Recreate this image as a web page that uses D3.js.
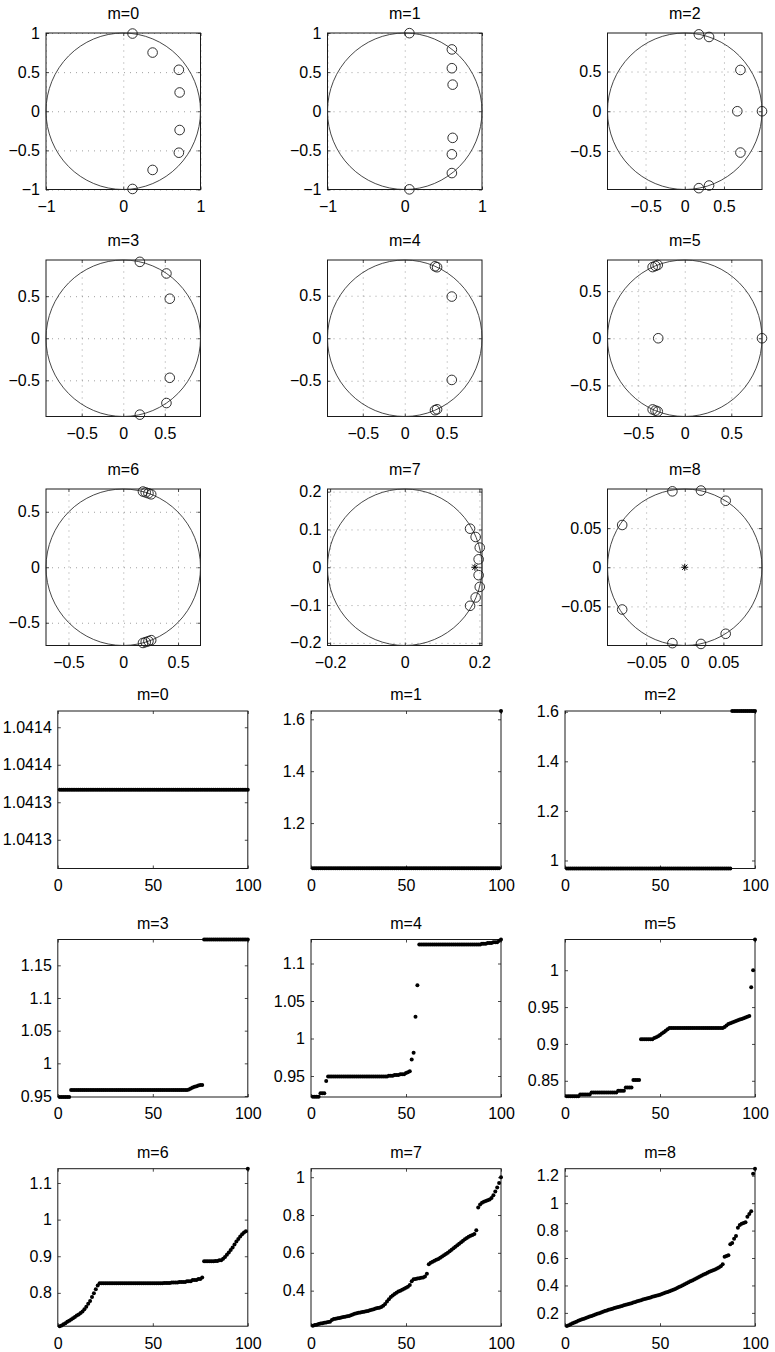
<!DOCTYPE html>
<html><head><meta charset="utf-8">
<script src="https://cdn.jsdelivr.net/npm/d3@7/dist/d3.min.js"></script>
<style>
body{margin:0;background:#fff}
svg{display:block}
text{font-family:"Liberation Sans",Arial,Helvetica,sans-serif;fill:#000}
</style>
</head><body>
<svg id="c" width="775" height="1352"></svg>
<script>
// ---------- pole/zero panels ----------
const zTitles = ["m=0","m=1","m=2","m=3","m=4","m=5","m=6","m=7","m=8"];
const zRadius = [1, 1, 0.985, 0.93, 0.92, 0.83, 0.705, 0.207, 0.1];
const zXTicks = [[-1,0,1],[-1,0,1],[-0.5,0,0.5],[-0.5,0,0.5],[-0.5,0,0.5],[-0.5,0,0.5],[-0.5,0,0.5],[-0.2,0,0.2],[-0.05,0,0.05]];
const zYTicks = [[-1,-0.5,0,0.5,1],[-1,-0.5,0,0.5,1],[-0.5,0,0.5],[-0.5,0,0.5],[-0.5,0,0.5],[-0.5,0,0.5],[-0.5,0,0.5],[-0.2,-0.1,0,0.1,0.2],[-0.05,0,0.05]];
const zZeros = [
 [[0.12,0.993],[0.38,0.75],[0.72,0.53],[0.73,0.24],[0.73,-0.24],[0.72,-0.53],[0.38,-0.75],[0.12,-0.993]],
 [[0.06,0.998],[0.61,0.79],[0.61,0.55],[0.62,0.34],[0.62,-0.34],[0.61,-0.55],[0.61,-0.79],[0.06,-0.998]],
 [[0.18,0.968],[0.31,0.935],[0.71,0.52],[0.67,0],[0.985,0],[0.71,-0.52],[0.31,-0.935],[0.18,-0.968]],
 [[0.2,0.908],[0.52,0.77],[0.56,0.47],[0.56,-0.47],[0.52,-0.77],[0.2,-0.908]],
 [[0.36,0.846],[0.385,0.835],[0.56,0.49],[0.56,-0.49],[0.36,-0.846],[0.385,-0.835]],
 [[-0.345,0.755],[-0.315,0.767],[-0.29,0.777],[-0.285,0],[0.83,0],[-0.345,-0.755],[-0.315,-0.767],[-0.29,-0.777]],
 [[0.18,0.682],[0.205,0.674],[0.23,0.666],[0.255,0.657],[0.18,-0.682],[0.205,-0.674],[0.23,-0.666],[0.255,-0.657]],
 [[0.175,0.102],[0.19,0.08],[0.201,0.052],[0.198,0.021],[0.198,-0.021],[0.201,-0.052],[0.19,-0.08],[0.175,-0.102]],
 [[-0.016,0.097],[0.021,0.098],[0.053,0.085],[-0.081,0.054],[-0.081,-0.054],[-0.016,-0.097],[0.021,-0.098],[0.053,-0.085]]
];
const zStars = [null,null,null,null,null,null,null,[0.188,0],[0,0]];

// ---------- sorted-value panels ----------
const sTitles = ["m=0","m=1","m=2","m=3","m=4","m=5","m=6","m=7","m=8"];
const sXTicks = [0,50,100];
const sYDomains = [[1.041282,1.041408],[1.025,1.632],[0.9676,1.603],[0.9485,1.1895],[0.922,1.132],[0.828,1.0417],[0.709,1.139],[0.212,1.045],[0.103,1.251]];
const sYTicks = [[1.041305,1.041335,1.041365,1.041395],[1.2,1.4,1.6],[1,1.2,1.4,1.6],[0.95,1,1.05,1.1,1.15],[0.95,1,1.05,1.1],[0.85,0.9,0.95,1],[0.8,0.9,1,1.1],[0.4,0.6,0.8,1],[0.2,0.4,0.6,0.8,1,1.2]];
const sYTickLabels = [["1.0413","1.0413","1.0414","1.0414"],["1.2","1.4","1.6"],["1","1.2","1.4","1.6"],["0.95","1","1.05","1.1","1.15"],["0.95","1","1.05","1.1"],["0.85","0.9","0.95","1"],["0.8","0.9","1","1.1"],["0.4","0.6","0.8","1"],["0.2","0.4","0.6","0.8","1","1.2"]];
// values, in sorted order; [value, count] = a plateau of identical dots
const sSeries = [
 [[1.041345,100]],
 [[1.0255,99],1.632],
 [[0.9676,87],[1.603,13]],
 [[0.9485,6],[0.9591,62],0.960,0.9615,0.963,0.964,0.965,0.966,0.967,0.967,[1.1895,24]],
 [[0.9225,4],[0.927,3],0.9435,[0.9495,32],[0.9505,3],[0.9515,3],[0.9525,3],0.954,0.955,0.9565,0.972,0.981,1.029,1.071,[1.1255,33],[1.1265,3],[1.1275,3],[1.1285,3],1.1305,1.132],
 [[0.829,7],[0.8315,6],[0.834,14],[0.8365,4],[0.841,4],[0.851,4],[0.9065,7],0.908,0.909,0.9105,0.912,0.914,0.916,0.918,0.92,[0.9215,29],0.923,0.925,0.927,0.928,0.929,0.93,0.931,0.932,0.933,0.934,0.935,0.936,0.937,0.938,0.977,1.0,1.0417],
 [0.709,0.711,0.714,0.717,0.721,0.724,0.727,0.731,0.734,0.738,0.741,0.745,0.749,0.755,0.762,0.77,0.778,0.789,0.799,0.81,0.82,[0.826,34],[0.827,4],[0.828,4],[0.83,4],[0.832,3],[0.835,3],[0.838,2],0.842,[0.886,6],[0.887,2],[0.889,2],0.893,0.898,0.904,0.91,0.917,0.924,0.932,0.94,0.947,0.954,0.96,0.965,0.968,1.139],
 [0.215,0.218,0.22,0.223,0.226,0.228,0.23,0.232,0.234,0.236,
  0.245,0.25,0.252,0.254,0.256,0.258,0.26,0.262,0.264,0.266,
  0.27,0.274,0.278,0.281,0.283,0.285,0.287,0.289,0.291,0.293,
  0.296,0.299,0.302,0.305,0.308,0.31,0.313,0.32,0.33,0.342,
  0.355,0.366,0.375,0.382,0.389,0.395,0.4,0.405,0.41,0.415,
  0.42,0.43,0.45,0.46,0.462,0.464,0.466,0.468,0.47,0.475,
  0.49,0.54,0.548,0.553,0.558,0.563,0.568,0.574,0.58,0.587,
  0.594,0.601,0.608,0.616,0.624,0.632,0.64,0.648,0.656,0.664,
  0.672,0.679,0.685,0.69,0.695,0.7,0.72,0.84,0.855,0.865,
  0.87,0.874,0.878,0.882,0.89,0.905,0.925,0.945,0.97,1.0],
 [0.105,0.11,0.118,0.124,0.13,0.136,0.142,0.148,0.153,0.158,
  0.163,0.168,0.173,0.178,0.183,0.188,0.193,0.198,0.203,0.208,
  0.213,0.218,0.222,0.227,0.231,0.235,0.239,0.243,0.247,0.251,
  0.255,0.259,0.263,0.267,0.271,0.275,0.28,0.285,0.289,0.293,
  0.297,0.301,0.305,0.309,0.313,0.317,0.321,0.325,0.329,0.333,
  0.338,0.343,0.348,0.353,0.358,0.363,0.369,0.375,0.381,0.388,
  0.395,0.402,0.409,0.416,0.423,0.43,0.437,0.444,0.451,0.458,
  0.465,0.472,0.479,0.486,0.493,0.499,0.505,0.511,0.517,0.523,
  0.53,0.54,0.555,0.61,0.615,0.62,0.7,0.71,0.74,0.76,
  0.82,0.84,0.85,0.855,0.86,0.9,0.92,0.94,1.215,1.251]
];

// ---------- drawing ----------
const svg = d3.select("#c");
const fmt = v => (v < 0 ? "\u2212" : "") + String(Math.abs(v));
const INK = "#1a1a1a";

function styleAxis(g, fs) {
  g.select(".domain").remove();
  g.selectAll(".tick line").attr("stroke", INK).attr("stroke-width", 0.8);
  g.selectAll(".tick text").attr("font-size", fs).attr("font-family", '"Liberation Sans",Arial,sans-serif').attr("fill", "#000");
  g.attr("font-size", null).attr("font-family", null);
}

function frame(g, x, y, xt, yt, L, T, W, H, fs, xLabels, yLabels, grid) {
  if (grid) {
    const gs = a => { a.select(".domain").remove(); a.selectAll("line").attr("stroke", "#888").attr("stroke-width", 0.8).attr("stroke-dasharray", "1,5"); };
    g.append("g").attr("transform", `translate(0,${T+H})`)
      .call(d3.axisBottom(x).tickValues(xt).tickSizeInner(-H).tickSizeOuter(0).tickFormat("")).call(gs);
    g.append("g").attr("transform", `translate(${L},0)`)
      .call(d3.axisLeft(y).tickValues(yt).tickSizeInner(-W).tickSizeOuter(0).tickFormat("")).call(gs);
  }
  const tk = 3;
  g.append("g").attr("transform", `translate(0,${T+H})`)
    .call(d3.axisBottom(x).tickValues(xt).tickSizeInner(-tk).tickSizeOuter(0).tickPadding(11).tickFormat((d,i)=>xLabels[i]))
    .call(a => styleAxis(a, fs));
  g.append("g").attr("transform", `translate(${L},0)`)
    .call(d3.axisLeft(y).tickValues(yt).tickSizeInner(-tk).tickSizeOuter(0).tickPadding(6).tickFormat((d,i)=>yLabels[i]))
    .call(a => styleAxis(a, fs));
  g.append("g").attr("transform", `translate(0,${T})`)
    .call(d3.axisTop(x).tickValues(xt).tickSizeInner(-tk).tickSizeOuter(0).tickFormat(""))
    .call(a => styleAxis(a, fs));
  g.append("g").attr("transform", `translate(${L+W},0)`)
    .call(d3.axisRight(y).tickValues(yt).tickSizeInner(-tk).tickSizeOuter(0).tickFormat(""))
    .call(a => styleAxis(a, fs));
  g.append("rect").attr("x", L).attr("y", T).attr("width", W).attr("height", H)
    .attr("fill", "none").attr("stroke", INK).attr("stroke-width", 1);
}

// top 3x3
const zCols = [46, 327.5, 607.5], zRows = [33, 260, 489], zW = 154.5, zH = 156.5;
zTitles.forEach((title, i) => {
  const L = zCols[i % 3], T = zRows[Math.floor(i / 3)];
  const r = zRadius[i];
  const x = d3.scaleLinear().domain([-r, r]).range([L, L + zW]);
  const y = d3.scaleLinear().domain([-r, r]).range([T + zH, T]);
  const g = svg.append("g");
  frame(g, x, y, zXTicks[i], zYTicks[i], L, T, zW, zH, 16, zXTicks[i].map(fmt), zYTicks[i].map(fmt), true);
  g.append("ellipse").attr("cx", x(0)).attr("cy", y(0)).attr("rx", x(r) - x(0)).attr("ry", y(0) - y(r))
    .attr("fill", "none").attr("stroke", "#333").attr("stroke-width", 0.9);
  g.selectAll("circle.z").data(zZeros[i]).join("circle").attr("class", "z")
    .attr("cx", d => x(d[0])).attr("cy", d => y(d[1])).attr("r", 4.8)
    .attr("fill", "none").attr("stroke", INK).attr("stroke-width", 0.9);
  if (zStars[i]) {
    const s = zStars[i];
    g.append("path").attr("transform", `translate(${x(s[0])},${y(s[1])})`)
      .attr("d", "M-3.5,0H3.5M0,-3.5V3.5M-2.6,-2.6L2.6,2.6M-2.6,2.6L2.6,-2.6")
      .attr("stroke", "#000").attr("stroke-width", 1).attr("fill", "none");
  }
  g.append("text").attr("x", L + zW / 2).attr("y", T - 14).attr("text-anchor", "middle")
    .attr("font-size", 16).text(title);
});

// bottom 3x3
const sCols = [57.8, 311, 565], sRows = [711, 939.5, 1168.7], sW = 190, sH = 157.5;
sTitles.forEach((title, i) => {
  const L = sCols[i % 3], T = sRows[Math.floor(i / 3)];
  const x = d3.scaleLinear().domain([0, 100]).range([L, L + sW]);
  const y = d3.scaleLinear().domain(sYDomains[i]).range([T + sH, T]);
  const g = svg.append("g");
  const vals = [];
  sSeries[i].forEach(e => { if (Array.isArray(e)) { for (let k = 0; k < e[1]; k++) vals.push(e[0]); } else vals.push(e); });
  const pts = vals.map((v, k) => [k + 1, v]);
  frame(g, x, y, sXTicks, sYTicks[i], L, T, sW, sH, 16, sXTicks.map(String), sYTickLabels[i], false);
  g.selectAll("circle.d").data(pts).join("circle").attr("class", "d")
    .attr("cx", d => x(d[0])).attr("cy", d => y(d[1])).attr("r", 2).attr("fill", "#000");
  g.append("text").attr("x", L + sW / 2).attr("y", T - 11).attr("text-anchor", "middle")
    .attr("font-size", 16).text(title);
});
</script>
</body></html>
